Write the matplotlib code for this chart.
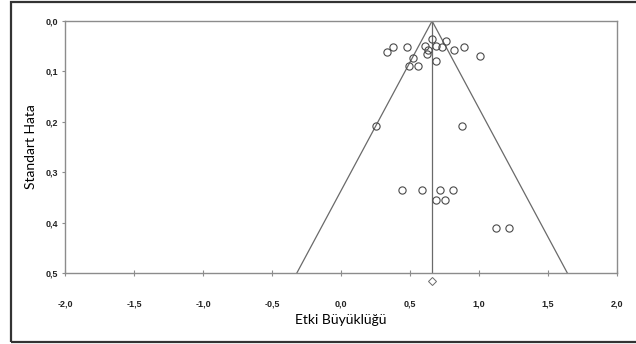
import matplotlib
matplotlib.use('Agg')
import matplotlib.pyplot as plt
from matplotlib.patches import Rectangle

# study data
effect = [0.33, 0.38, 0.48, 0.52, 0.49, 0.56, 0.61, 0.63, 0.62, 0.66, 0.69, 0.73,
          0.76, 0.69, 0.82, 0.89, 1.01, 0.25, 0.88,
          0.44, 0.59, 0.72, 0.81, 0.69, 0.75, 1.12, 1.22]
std_err = [0.062, 0.051, 0.052, 0.073, 0.090, 0.090, 0.050, 0.058, 0.066, 0.036, 0.049, 0.051,
           0.040, 0.080, 0.058, 0.051, 0.070, 0.209, 0.209,
           0.335, 0.335, 0.335, 0.335, 0.355, 0.355, 0.410, 0.410]
mean_effect = 0.66
diamond_se = 0.516
max_se = 0.5

x_ticks = [-2.0, -1.5, -1.0, -0.5, 0.0, 0.5, 1.0, 1.5, 2.0]
x_labels = ['-2,0', '-1,5', '-1,0', '-0,5', '0,0', '0,5', '1,0', '1,5', '2,0']
y_ticks = [0.0, 0.1, 0.2, 0.3, 0.4, 0.5]
y_labels = ['0,0', '0,1', '0,2', '0,3', '0,4', '0,5']

fig = plt.figure(figsize=(6.36, 3.44), dpi=100)
ax = fig.add_axes([65 / 636, 1 - 273 / 344, 552 / 636, 252 / 344])

gray = '#8c8c8c'
line = '#6a6a6a'

# funnel and mean line
ax.plot([mean_effect - 1.96 * max_se, mean_effect, mean_effect + 1.96 * max_se],
        [max_se, 0.0, max_se], color=line, lw=0.9)
ax.plot([mean_effect, mean_effect], [0.0, max_se], color=line, lw=0.9)

ax.plot(effect, std_err, 'o', ms=5.2, mfc='none', mec='#4a4a4a', mew=0.8)
ax.plot([mean_effect], [diamond_se], 'D', ms=4, mfc='white', mec='#6a6a6a', mew=0.7,
        clip_on=False)

ax.set_xlim(-2.0, 2.0)
ax.set_ylim(0.5, 0.0)
ax.set_xticks(x_ticks)
ax.set_xticklabels(x_labels)
ax.set_yticks(y_ticks)
ax.set_yticklabels(y_labels)

for s in ax.spines.values():
    s.set_color(gray)
    s.set_linewidth(1.0)

ax.tick_params(axis='x', direction='inout', length=4, width=0.8, color=gray, pad=17)
ax.tick_params(axis='y', direction='out', length=2.5, width=0.8, color=gray, pad=2.5)
for lab in ax.get_xticklabels() + ax.get_yticklabels():
    lab.set_fontfamily('Liberation Sans')
    lab.set_fontweight('bold')
    lab.set_fontsize(6.5)
    lab.set_color('#222222')

ax.set_xlabel('Etki Büyüklüğü', fontfamily='Lato', fontsize=10, labelpad=4)
ax.set_ylabel('Standart Hata', fontfamily='Lato', fontsize=10, labelpad=6)

# outer border of the picture
fig.patches.append(Rectangle((11 / 636, 2 / 344), 1.0, 340 / 344, transform=fig.transFigure,
                             fill=False, ec='#333333', lw=1.6))

fig.savefig('out.png', dpi=100)
